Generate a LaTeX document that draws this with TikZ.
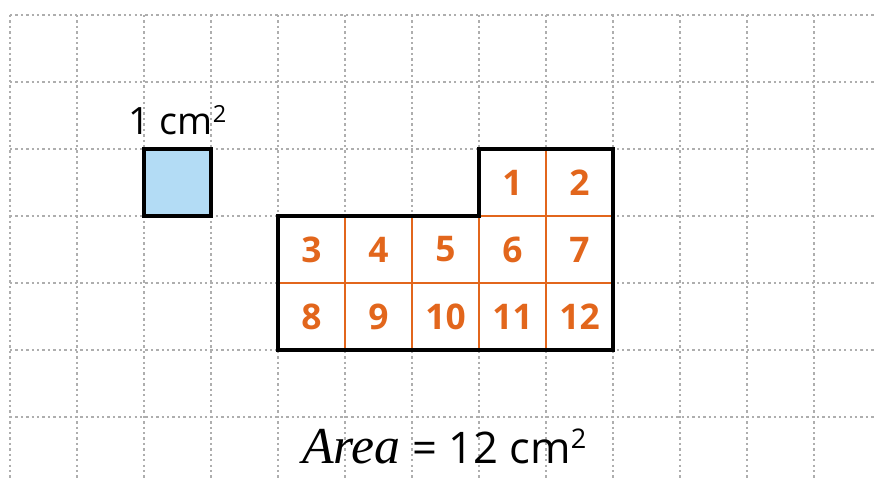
\documentclass[tikz,border=0pt]{standalone}
\usepackage{fontspec}
\setmainfont{Open Sans}
\newfontfamily\areafont{Liberation Serif}
\definecolor{gridgray}{HTML}{AEAEAE}
\definecolor{cellorange}{HTML}{E2661C}
\definecolor{unitblue}{HTML}{B3DCF5}
\newcommand{\sqsup}[1]{\raisebox{0.62ex}{\fontsize{#1}{12}\selectfont 2}}
\begin{document}
\begin{tikzpicture}[x=1cm,y=1cm,
  gridline/.style={gridgray, line width=0.5pt, dash pattern=on 1pt off 1.3pt},
  outline/.style={black, line width=2pt, line join=miter},
  inner/.style={cellorange, line width=1.1pt},
  num/.style={text=cellorange, font=\fontsize{15}{18}\selectfont\bfseries},
  lab/.style={font=\fontsize{16}{19}\selectfont, inner sep=0pt}]
\useasboundingbox (-0.149,-6.94) rectangle (12.91,0.224);
% grid
\foreach \i in {0,...,12} \draw[gridline] (\i,0) -- (\i,-6.94);
\foreach \j in {0,...,6} \draw[gridline] (0,-\j) -- (12.91,-\j);
% unit square
\draw[outline, fill=unitblue] (2,-2) rectangle (3,-3);
\node[lab, anchor=base] (unit) at (2.5,-1.79) {1 cm\sqsup{10}};
% inner orange lines
\draw[inner] (5,-3) -- (5,-5) (6,-3) -- (6,-5) (7,-3) -- (7,-5) (8,-2) -- (8,-5)
  (7,-3) -- (9,-3) (4,-4) -- (9,-4);
% outline
\draw[outline] (4,-3) -- (7,-3) -- (7,-2) -- (9,-2) -- (9,-5) -- (4,-5) -- cycle;
% numbers
\node[num] (n1) at (7.5,-2.5) {1};
\node[num] (n2) at (8.5,-2.5) {2};
\foreach \k [count=\c from 0] in {3,...,7} \node[num] (n\k) at (4.5+\c,-3.5) {\k};
\foreach \k [count=\c from 0] in {8,...,12} \node[num] (n\k) at (4.5+\c,-4.5) {\k};
% area
\node[anchor=base, inner sep=0pt, font=\fontsize{18.5}{22}\selectfont] (area) at (6.48,-6.69) {{\areafont\itshape\fontsize{22}{26}\selectfont Area} = 12 cm\sqsup{11.5}};
\end{tikzpicture}
\end{document}
